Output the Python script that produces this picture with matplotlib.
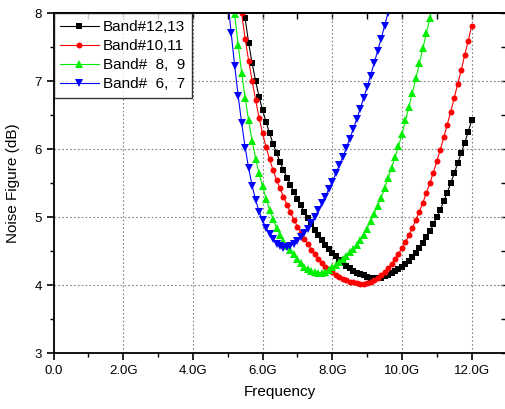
import numpy as np
import matplotlib
matplotlib.use("Agg")
import matplotlib.pyplot as plt

plt.rcParams['font.family'] = ['Liberation Sans', 'DejaVu Sans']

# ---- data (frequency in GHz, noise figure in dB) ----
black_freq = np.round(np.arange(5.4, 12.001, 0.1), 1)
black_nf = [8.30, 7.92, 7.56, 7.26, 7.00, 6.77, 6.57, 6.40, 6.23, 6.08,
            5.94, 5.81, 5.69, 5.58, 5.47, 5.37, 5.27, 5.17, 5.07, 4.98,
            4.90, 4.81, 4.74, 4.66, 4.59, 4.53, 4.47, 4.42, 4.37, 4.33,
            4.28, 4.25, 4.21, 4.18, 4.16, 4.14, 4.12, 4.11, 4.10, 4.10,
            4.11, 4.13, 4.15, 4.17, 4.20, 4.23, 4.27, 4.31, 4.36, 4.41,
            4.47, 4.54, 4.62, 4.70, 4.79, 4.89, 5.00, 5.11, 5.23, 5.36,
            5.50, 5.64, 5.79, 5.94, 6.09, 6.25, 6.42]

red_freq = np.round(np.arange(5.3, 12.001, 0.1), 1)
red_nf = [8.40, 8.00, 7.62, 7.30, 7.00, 6.72, 6.46, 6.23, 6.03, 5.85,
          5.69, 5.55, 5.42, 5.30, 5.18, 5.07, 4.96, 4.86, 4.77, 4.68,
          4.60, 4.52, 4.45, 4.38, 4.32, 4.27, 4.23, 4.19, 4.15, 4.12,
          4.09, 4.07, 4.05, 4.04, 4.03, 4.02, 4.02, 4.03, 4.05, 4.07,
          4.10, 4.14, 4.19, 4.25, 4.31, 4.38, 4.46, 4.54, 4.63, 4.73,
          4.84, 4.96, 5.08, 5.21, 5.35, 5.50, 5.65, 5.82, 5.99, 6.17,
          6.36, 6.55, 6.75, 6.96, 7.16, 7.38, 7.59, 7.81]

green_freq = np.round(np.arange(5.1, 10.901, 0.1), 1)
green_nf = [8.45, 7.98, 7.53, 7.12, 6.75, 6.42, 6.12, 5.86, 5.64, 5.45,
            5.27, 5.11, 4.97, 4.84, 4.73, 4.65, 4.58, 4.51, 4.45, 4.38,
            4.32, 4.27, 4.23, 4.21, 4.19, 4.18, 4.18, 4.19, 4.22, 4.26,
            4.30, 4.34, 4.38, 4.43, 4.48, 4.53, 4.59, 4.66, 4.74, 4.83,
            4.94, 5.05, 5.16, 5.28, 5.42, 5.57, 5.72, 5.88, 6.04, 6.22,
            6.42, 6.62, 6.83, 7.04, 7.26, 7.48, 7.70, 7.92, 8.15]

blue_freq = np.round(np.arange(5.0, 9.701, 0.1), 1)
blue_nf = [8.20, 7.70, 7.22, 6.78, 6.38, 6.02, 5.72, 5.46, 5.25, 5.08,
           4.95, 4.84, 4.75, 4.67, 4.61, 4.57, 4.55, 4.56, 4.58, 4.61,
           4.65, 4.70, 4.76, 4.83, 4.91, 5.00, 5.10, 5.20, 5.30, 5.41,
           5.52, 5.64, 5.76, 5.88, 6.01, 6.15, 6.29, 6.44, 6.59, 6.75,
           6.91, 7.08, 7.26, 7.44, 7.62, 7.81, 8.00, 8.20]

labels = ["Band#12,13", "Band#10,11", "Band#  8,  9", "Band#  6,  7"]
x_ticks = [0, 2, 4, 6, 8, 10, 12]
x_tick_labels = ["0.0", "2.0G", "4.0G", "6.0G", "8.0G", "10.0G", "12.0G"]
y_ticks = [3, 4, 5, 6, 7, 8]

# ---- figure ----
fig = plt.figure(figsize=(5.05, 4.09), dpi=100)
ax = fig.add_axes([53.5 / 505, 1 - 353 / 409, 453 / 505, 340 / 409])

series = [
    (black_freq, black_nf, 'black', 's', 3.8),
    (red_freq, red_nf, '#ff0000', 'o', 4.3),
    (green_freq, green_nf, '#00ee00', '^', 5.3),
    (blue_freq, blue_nf, '#0000ff', 'v', 5.3),
]
for (fx, fy, c, m, ms), lab in zip(series, labels):
    ax.plot(fx, fy, color=c, marker=m, markersize=ms, linewidth=0.8,
            markeredgewidth=0, label=lab)

ax.set_xlim(0, 13)
ax.set_ylim(3, 8)
ax.set_xticks(x_ticks)
ax.set_xticklabels(x_tick_labels)
ax.set_yticks(y_ticks)
ax.set_xticks(np.arange(1, 13, 2), minor=True)
ax.set_yticks(np.arange(3.5, 8, 1.0), minor=True)

ax.grid(True, which='major', color='#808080', linestyle=(0, (1.5, 2)), linewidth=0.8)
ax.tick_params(axis='both', which='major', direction='out', length=5, width=1.2,
               labelsize=9.5, top=False, right=False)
ax.tick_params(axis='both', which='minor', direction='out', length=3, width=1.0,
               top=False, right=False)

secx = ax.secondary_xaxis('top')
secx.set_xticks(x_ticks)
secx.set_xticks(np.arange(1, 13, 2), minor=True)
secx.tick_params(which='both', direction='in', length=4, width=1.0, labeltop=False)
secy = ax.secondary_yaxis('right')
secy.set_yticks(y_ticks)
secy.set_yticks(np.arange(3.5, 8, 1.0), minor=True)
secy.tick_params(which='both', direction='in', length=4, width=1.0, labelright=False)

for sp in ax.spines.values():
    sp.set_linewidth(1.3)
for sp in list(secx.spines.values()) + list(secy.spines.values()):
    sp.set_linewidth(1.3)

ax.set_xlabel("Frequency", fontsize=11, labelpad=6)
ax.set_ylabel("Noise Figure (dB)", fontsize=11, labelpad=10)

leg = ax.legend(loc='upper left', bbox_to_anchor=(0, 1), borderaxespad=0,
                fontsize=11, frameon=True, fancybox=False, handlelength=2.5,
                handletextpad=0.3, labelspacing=0.33, borderpad=0.45)
leg.get_frame().set_edgecolor('black')
leg.get_frame().set_linewidth(1.0)

fig.savefig("out.png", dpi=100)
